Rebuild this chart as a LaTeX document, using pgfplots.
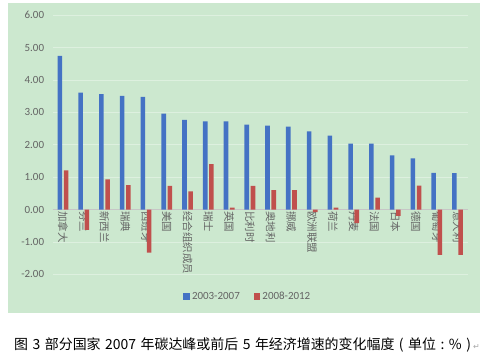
\documentclass[border=0pt]{standalone}
\usepackage{pgfplots}
\usepackage{pgfplotstable}
\pgfplotsset{compat=1.18}
\usepackage{fontspec}
\setmainfont{Carlito}
\newfontfamily\cjk{Noto Sans CJK SC}
\newfontfamily\dejavu{DejaVu Sans}
\definecolor{bg}{RGB}{204,232,207}
\definecolor{xblue}{RGB}{68,114,196}
\definecolor{xred}{RGB}{192,80,77}
\definecolor{txtgray}{RGB}{100,100,100}
\pgfplotstableread{
x blue red
0 4.74 1.21
1 3.61 -0.63
2 3.56 0.93
3 3.51 0.75
4 3.48 -1.33
5 2.96 0.73
6 2.77 0.56
7 2.72 1.40
8 2.72 0.06
9 2.62 0.73
10 2.59 0.60
11 2.56 0.60
12 2.41 -0.08
13 2.28 0.06
14 2.03 -0.42
15 2.03 0.37
16 1.67 -0.20
17 1.58 0.74
18 1.13 -1.40
19 1.12 -1.40
}\datatable
\newcommand{\gap}{\hspace{4.5bp}}
\begin{document}
\begin{tikzpicture}
\path[use as bounding box] (0,0) rectangle (484bp,-356bp);
\fill[bg] (8bp,-3bp) rectangle (480bp,-313bp);
\begin{axis}[
  at={(52.6bp,-290.5bp)}, anchor=south west,
  scale only axis, width=415.3bp, height=275.4bp,
  xmin=-0.5, xmax=19.5, ymin=-2.5, ymax=6,
  axis x line=middle, axis y line=left,
  axis line style={-},
  x axis line style={draw=gray!45},
  y axis line style={draw=none},
  major tick length=0pt,
  ytick={-2,-1,0,1,2,3,4,5,6},
  yticklabel style={/pgf/number format/.cd, fixed, fixed zerofill, precision=2, assume math mode=true, /tikz/.cd, font=\fontsize{11}{12}\selectfont, text=txtgray, xshift=-5bp},
  ymajorgrids, grid style={white, opacity=0.35, line width=0.6pt},
  xtick={0,...,19},
  xticklabels={加拿大,芬兰,新西兰,瑞典,西班牙,美国,经合组织成员,瑞士,英国,比利时,奥地利,挪威,欧洲联盟,荷兰,丹麦,法国,日本,德国,葡萄牙,意大利},
  xticklabel style={font=\cjk\fontsize{10.5}{11}\selectfont, text=txtgray, rotate=-90, anchor=west, inner sep=1.5bp},
  ybar, bar width=4.6bp,
  legend style={at={(0.47,-0.022)}, anchor=center, draw=none, fill=none, legend columns=2, font=\fontsize{11}{12}\selectfont, text=txtgray, /tikz/every even column/.append style={column sep=12bp}},
  legend image code/.code={\fill[#1] (0bp,-3.3bp) rectangle (6.7bp,3.3bp);},
]
\addplot[fill=xblue, draw=none, bar shift=-3.1bp] table[x=x, y=blue] {\datatable};
\addlegendentry{2003-2007}
\addplot[fill=xred, draw=none, bar shift=3.1bp] table[x=x, y=red] {\datatable};
\addlegendentry{2008-2012}
\end{axis}
\node[anchor=west, inner sep=0pt] at (14bp,-345bp) {\cjk\fontsize{14}{16}\selectfont 图\gap{}3\gap{}部分国家\gap{}2007\gap{}年碳达峰或前后\gap{}5\gap{}年经济增速的变化幅度\gap{}(\gap{}单位\gap{}:\gap{}\%\gap{})\hspace{2bp}{\color{gray!70}\dejavu\fontsize{8}{9}\selectfont ↵}};
\end{tikzpicture}
\end{document}
